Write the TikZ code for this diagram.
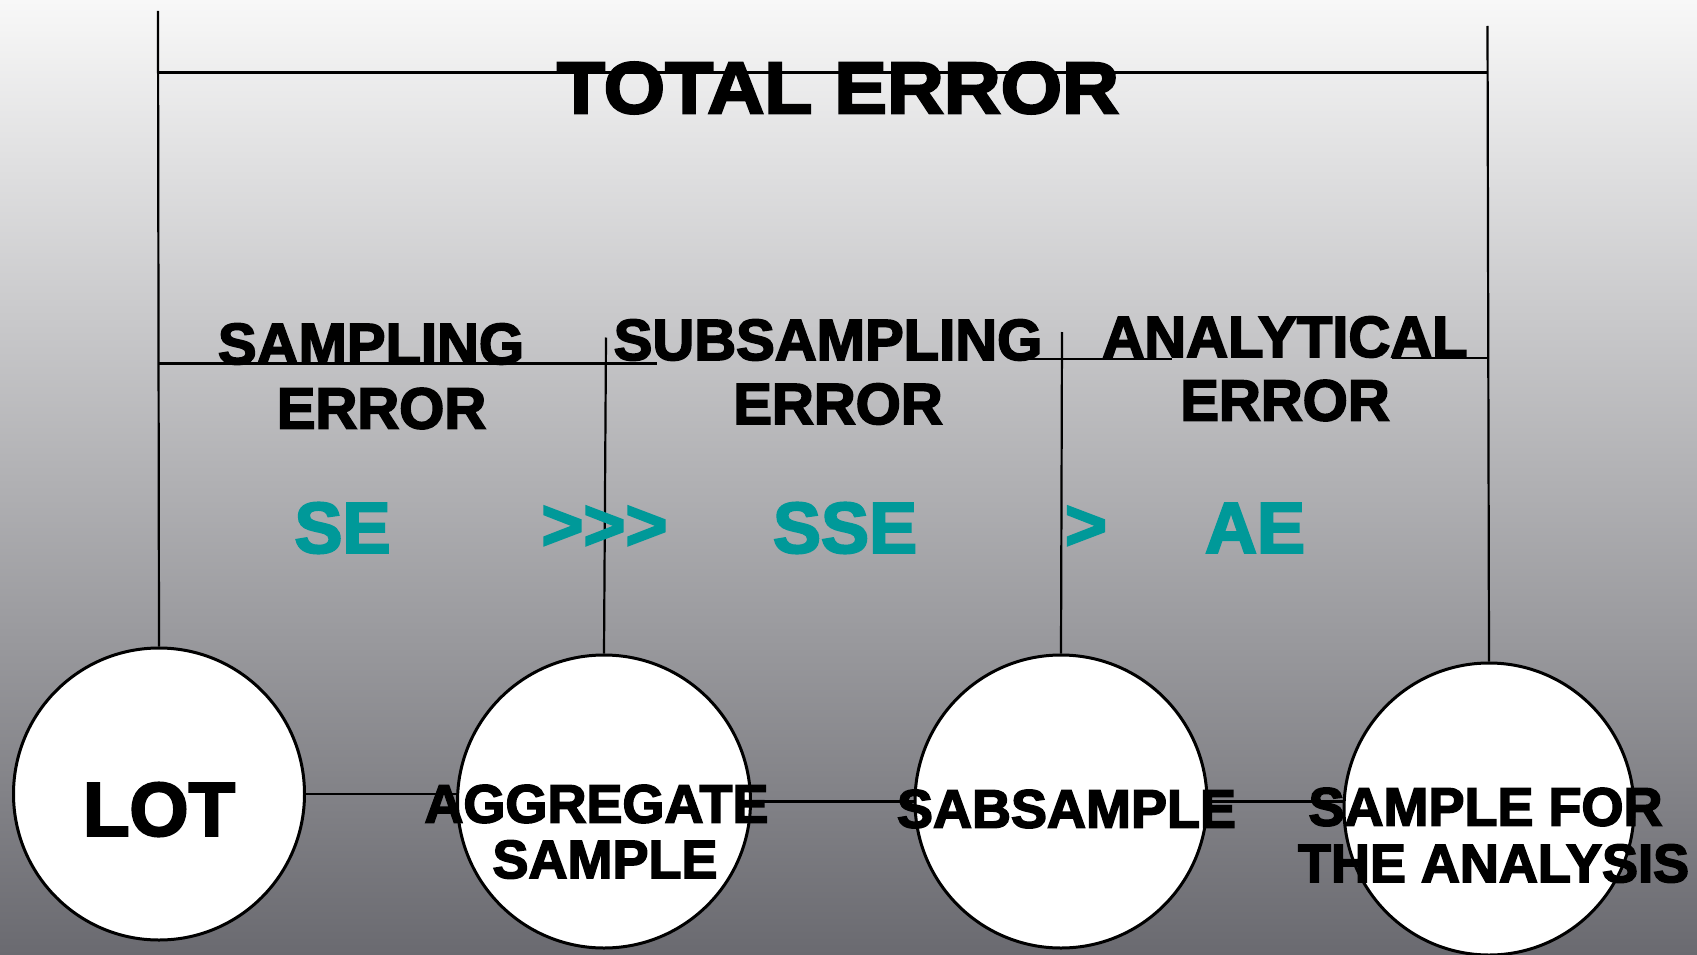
\documentclass[tikz,border=0pt]{standalone}
\usepackage{fontspec}
\setmainfont{Liberation Sans}[BoldFeatures={FakeBold=3}]
\newfontfamily\widefont{Liberation Sans}[BoldFeatures={FakeBold=3.2,FakeStretch=1.08}]
\usetikzlibrary{shapes.geometric}
\definecolor{tealtxt}{RGB}{0,153,153}
\definecolor{bgtop}{RGB}{248,248,248}
\definecolor{bgbot}{RGB}{106,106,112}
\begin{document}
\begin{tikzpicture}[x=1pt,y=-1pt,
  egg/.style={ellipse,draw=black,line width=3pt,fill=white,inner sep=0pt},
  wire/.style={draw=black,line width=2.2pt},
  lbl/.style={inner sep=0pt,font=\bfseries\fontsize{58}{60}\selectfont},
  big/.style={inner sep=0pt,font=\widefont\bfseries\fontsize{73}{75}\selectfont},
  inn/.style={inner sep=0pt,font=\bfseries\fontsize{54}{56}\selectfont},
  tl/.style={inner sep=0pt,text=tealtxt,font=\bfseries\fontsize{72}{74}\selectfont}]
\useasboundingbox (0,0) rectangle (1697,955);
\shade[top color=bgtop,bottom color=bgbot] (0,0) rectangle (1697,955);

% ellipses
\node[egg,minimum width=291,minimum height=292] (lot) at (159,794) {};
\node[egg,minimum width=293,minimum height=293] (agg) at (604,801.5) {};
\node[egg,minimum width=292,minimum height=293] (sab) at (1061,801.5) {};
\node[egg,minimum width=290,minimum height=292] (sfa) at (1489,809) {};

% tops of vertical lines and bracket ends
\coordinate (vl) at (158,11);
\coordinate (vr) at (1487.5,26);
\coordinate (va) at (606,337.5);
\coordinate (vs) at (1062,332);
\coordinate (tl1) at (158,72.5);
\coordinate (tr1) at (1487.5,72.5);
\coordinate (sl) at (158,363.5);
\coordinate (sr) at (657,363.5);
\coordinate (ssl) at (1013,359);
\coordinate (ssr) at (1172,359);
\coordinate (al) at (1392,358);
\coordinate (ar) at (1487.5,358);

\draw[wire] (vl) -- (lot.north);
\draw[wire] (vr) -- (sfa.north);
\draw[wire] (va) -- (agg.north);
\draw[wire] (vs) -- (sab.north);
\draw[wire] (tl1) -- (tr1);
\draw[wire] (sl) -- (sr);
\draw[wire] (ssl) -- (ssr);
\draw[wire] (al) -- (ar);

\draw[wire] (lot.east) -- (lot.east -| agg.west);
\draw[wire] (agg.east) -- (sab.west);
\draw[wire] (sab.east) -- (sab.east -| sfa.west);

% texts
\node[big] (ttot) at (838,88) {TOTAL ERROR};
\node[lbl] (ts1) at (371,344) {SAMPLING};
\node[lbl] (ts2) at (381.5,408.5) {ERROR};
\node[lbl] (tss1) at (828,340) {SUBSAMPLING};
\node[lbl] (tss2) at (838,404) {ERROR};
\node[lbl] (ta1) at (1285,337) {ANALYTICAL};
\node[lbl] (ta2) at (1285,400.5) {ERROR};

\node[tl] (se) at (342.5,528) {SE};
\node[tl] (g3) at (604.5,528) {>\kern0pt>\kern0pt>};
\node[tl] (sse) at (845,528) {SSE};
\node[tl] (g1) at (1086,528) {>};
\node[tl] (ae) at (1255,528) {AE};

\node[inner sep=0pt,font=\bfseries\fontsize{76}{78}\selectfont] (tlot) at (159,809.5) {LOT};
\node[inn] (tag1) at (596.5,804) {AGGREGATE};
\node[inn] (tag2) at (605,859.5) {SAMPLE};
\node[inn] (tsab) at (1066.5,809) {SABSAMPLE};
\node[inn] (tsf1) at (1485.5,807) {SAMPLE FOR};
\node[inn] (tsf2) at (1493.5,863.5) {THE ANALYSIS};
\end{tikzpicture}
\end{document}
